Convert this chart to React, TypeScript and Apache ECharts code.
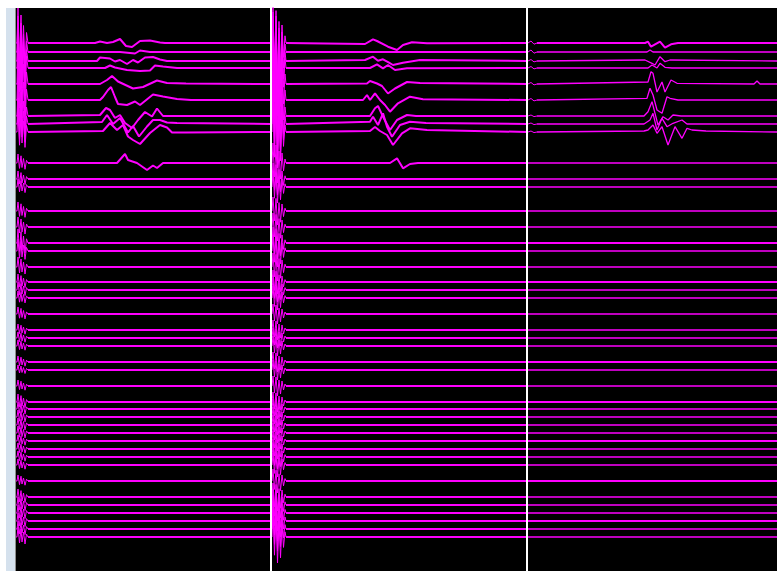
import { useEffect, useRef } from "react";
import * as echarts from "echarts";

// Channel baselines (vertical offset of each trace, arbitrary units, top = 0)
const CHANNEL_OFFSETS = [35, 44, 53, 60, 76, 92, 108, 116, 124, 155, 171, 179, 203, 219, 235, 243, 259, 274, 282, 290, 306, 322, 330, 338, 354, 362, 378, 394, 401, 409, 417, 425, 433, 441, 449, 457, 473, 489, 497, 505, 513, 521, 529];

// Sweep boundaries (sample index)
const SWEEP_STARTS = [0, 255, 511];
const SWEEP_END = 761;

// Stimulus artifact shapes: [sample offset, relative deflection]
const ARTIFACT_SHAPE_S1 = [[0, 0], [1, -1], [2.5, 0.6], [4, -0.8], [5, 0.5], [6.5, -0.5], [8, 0.7], [9.5, -0.3], [11, 0]];
const ARTIFACT_SHAPE_S2 = [[0, 0], [1, -1], [2.5, 0.7], [4, -0.9], [5.5, 1], [7, -0.6], [8.5, 0.8], [10, -0.5], [11.5, 0.4], [13, -0.2], [14, 0]];
const ARTIFACT_SHAPE_S3 = [[0, 0], [3, -1], [6, 0.6], [9, 0]];

// Artifact amplitude per channel, per sweep
const ARTIFACT_S1 = [35, 36, 38, 40, 40, 36, 30, 26, 22, 9, 8, 8, 9, 10, 14, 12, 10, 8, 8, 7, 7, 6, 6, 6, 6, 5, 6, 8, 7, 7, 7, 7, 6, 6, 6, 6, 6, 8, 8, 8, 8, 8, 10];
const ARTIFACT_S2 = [36, 40, 45, 48, 50, 50, 45, 40, 36, 20, 16, 16, 14, 14, 16, 16, 14, 12, 12, 12, 10, 10, 10, 10, 10, 10, 10, 10, 10, 10, 10, 10, 10, 10, 12, 12, 12, 14, 16, 18, 20, 22, 26];
const ARTIFACT_S3 = [2, 2, 1.5, 1.5, 1.5, 1.5, 1, 1, 1, 0, 0, 0, 0, 0, 0, 0, 0, 0, 0, 0, 0, 0, 0, 0, 0, 0, 0, 0, 0, 0, 0, 0, 0, 0, 0, 0, 0, 0, 0, 0, 0, 0, 0];

// Evoked responses: [sample, deflection from baseline] (positive = downward)
const CH0_S1 = [[79, 0], [84, -1.5], [91, 0], [97, -1], [104, -4], [110, 3], [116, 4], [124, -2], [134, -2.5], [144, -0.5], [149, 0]];
const CH0_S2 = [[349, 1], [357, -3.7], [361, -2], [372, 3.7], [381, 7], [387, 2], [396, -0.7], [411, 0.3]];
const CH0_S3 = [[629, 0], [632, -1.3], [635, 3.7], [644, -1.3], [649, 4.7], [655, 1.3], [662, 0]];
const CH1_S1 = [[104, 0], [119, 1.5], [124, -1.5], [134, 0]];
const CH1_S3 = [[631, 0], [634, -2], [637, 0]];
const CH2_S1 = [[81, 0], [84, -3.5], [94, -2.5], [99, 0.5], [104, -1], [111, 3], [117, -1], [122, 1.5], [129, -3.5], [137, -4], [144, -1.5], [151, 0]];
const CH2_S2 = [[349, -1], [357, -4.3], [362, -0.3], [367, -1.7], [373, 1.7], [377, 4], [387, 1.7], [404, -1]];
const CH2_S3 = [[629, -1], [636, 2.3], [639, 4], [644, -4.3], [649, 0.7], [654, -1]];
const CH3_S1 = [[89, 0], [94, -2.5], [99, -0.5], [111, 2], [124, 3], [134, 2.5], [139, -2.5], [147, -1.5], [161, 0]];
const CH3_S2 = [[354, 0], [361, -3.7], [367, 0.3], [372, -3], [379, 2], [391, 0.3]];
const CH3_S3 = [[632, 0], [636, -3], [641, 0], [644, -4.7], [649, -0.7], [656, 0]];
const CH4_S1 = [[84, 0], [91, -4], [96, -8], [102, -2.5], [117, 4.5], [127, 3], [141, -3.5], [151, -1], [170, -0.5]];
const CH4_S2 = [[351, -0.5], [354, -3], [361, -0.5], [366, 2], [372, 9.5], [379, 4.5], [391, -2], [404, -1]];
const CH4_S3 = [[632, -2], [635, -12.3], [637, -10.7], [641, 8], [646, -2], [649, 8], [655, -4], [661, -0.7], [738, 0], [741, -3], [744, 0]];
const CH5_S1 = [[84, 0], [87, -3], [92, -10], [95, -13], [99, -3], [102, 4], [111, 5], [119, 1.5], [124, 5], [137, -5.5], [147, -3.5], [161, -1], [175, 0]];
const CH5_S2 = [[347, 0], [351, -5], [354, 0], [359, -6.7], [364, 0], [369, 5], [374, 11.7], [382, 3.3], [394, -3.3], [407, -0.7]];
const CH5_S3 = [[631, -1.7], [634, -11.7], [637, -5], [641, 10], [646, 13.3], [651, -3.3], [654, -1.7], [662, 0]];
const CH6_S1 = [[84, -1], [90, -8], [94, -6], [99, 2], [104, -1], [109, 7], [116, 12], [122, 4], [129, -4], [136, 0.5], [141, -7.5], [147, 0]];
const CH6_S2 = [[354, 0], [359, -7.7], [362, -10], [367, 0.7], [374, 14], [381, 4], [391, -1], [400, 0]];
const CH6_S3 = [[628, 0], [632, -4.3], [636, -14.3], [639, -2.7], [642, 9], [647, 0.7], [652, 4], [657, -1], [665, 0]];
const CH7_S1 = [[86, -2], [91, -9], [97, 0], [104, -6], [112, 8.5], [117, 2], [123, 12.5], [131, 2.5], [137, -4], [144, -4], [151, -1.5], [161, -1]];
const CH7_S2 = [[354, -2.3], [357, -7.3], [362, 1], [367, -10.7], [371, 2.7], [376, 12.7], [384, 1], [394, -2.3], [410, -1]];
const CH7_S3 = [[628, 0], [634, -4], [637, -10.7], [641, 6], [646, -5.7], [651, 2.7], [657, -0.7], [666, -4], [671, 0]];
const CH8_S1 = [[87, -1], [94, -9], [101, -2], [107, -7], [112, 4.5], [117, 8], [124, 12], [134, 1], [144, -7], [151, -4.5], [156, 0.5], [170, 0.5]];
const CH8_S2 = [[354, -1], [359, -5], [364, -1], [371, 3], [377, 13], [386, 1.3], [394, -3.7], [411, -2]];
const CH8_S3 = [[628, -1], [632, -2], [637, -7], [641, 1.3], [646, -5.3], [652, 13], [659, -5.3], [666, 6.3], [671, -3.7], [676, -2], [690, -1]];
const CH9_S1 = [[101, 0], [109, -9], [112, -3], [121, 0], [131, 7], [137, 2.5], [141, 5], [147, 0]];
const CH9_S2 = [[374, 0], [381, -4.7], [387, 5.3], [394, 1], [402, 0]];

const EVENTS: Record<number, number[][][]> = {
  0: [CH0_S1, CH0_S2, CH0_S3],
  1: [CH1_S1, [], CH1_S3],
  2: [CH2_S1, CH2_S2, CH2_S3],
  3: [CH3_S1, CH3_S2, CH3_S3],
  4: [CH4_S1, CH4_S2, CH4_S3],
  5: [CH5_S1, CH5_S2, CH5_S3],
  6: [CH6_S1, CH6_S2, CH6_S3],
  7: [CH7_S1, CH7_S2, CH7_S3],
  8: [CH8_S1, CH8_S2, CH8_S3],
  9: [CH9_S1, CH9_S2, []],
};

// Channels that stay noisy (thicker) in the third sweep
const NOISY_S3 = [0, 14, 17, 24, 27, 32, 36, 40];

const TRACE_COLOR = "#ff00ff";

export default function App() {
  const ref = useRef<HTMLDivElement>(null);
  useEffect(() => {
    const chart = echarts.init(ref.current!, null, { renderer: "svg" });
    const shapes = [ARTIFACT_SHAPE_S1, ARTIFACT_SHAPE_S2, ARTIFACT_SHAPE_S3];
    const amps = [ARTIFACT_S1, ARTIFACT_S2, ARTIFACT_S3];
    const series: any[] = [];
    const lineSeries = (data: number[][], width: number, z: number, color = TRACE_COLOR) => ({
      type: "line",
      data,
      showSymbol: false,
      symbol: "none",
      silent: true,
      z,
      lineStyle: { color, width },
    });
    CHANNEL_OFFSETS.forEach((offset, c) => {
      SWEEP_STARTS.forEach((start, s) => {
        const end = s < SWEEP_STARTS.length - 1 ? SWEEP_STARTS[s + 1] : SWEEP_END;
        const shape = shapes[s];
        const artEnd = start + 1 + shape[shape.length - 1][0];
        const amp = amps[s][c];
        // stimulus artifact (thin)
        if (amp > 0) {
          const art = shape.map(([dt, v]) => [start + 1 + dt, offset + v * amp]);
          series.push(lineSeries([[start, offset], ...art], 1, 2));
        }
        // trace after artifact
        const pts: number[][] = [[amp > 0 ? artEnd : start, 0]];
        const ev = (EVENTS[c] && EVENTS[c][s]) || [];
        ev.forEach((p) => pts.push([p[0], p[1]]));
        pts.push([end, 0]);
        pts.sort((a, b) => a[0] - b[0]);
        const width = s < 2 ? 2 : NOISY_S3.includes(c) ? 2 : 1.3;
        series.push(lineSeries(pts.map(([t, d]) => [t, offset + d]), width, 3));
      });
    });
    // sweep separators
    SWEEP_STARTS.slice(1).forEach((t) => {
      series.push(lineSeries([[t, 0], [t, 563]], 2, 5, "#ffffff"));
    });

    chart.setOption({
      animation: false,
      backgroundColor: "#ffffff",
      grid: { left: 16, right: 0, top: 8, bottom: 0, show: true, backgroundColor: "#000000", borderWidth: 0 },
      xAxis: { type: "value", min: 0, max: SWEEP_END, show: false },
      yAxis: { type: "value", min: 0, max: 563, inverse: true, show: false },
      graphic: [
        { type: "rect", shape: { x: 6, y: 8, width: 9, height: 563 }, style: { fill: "#d5e1ed" }, silent: true },
        { type: "rect", shape: { x: 15, y: 8, width: 1, height: 563 }, style: { fill: "#8c8c8c" }, silent: true },
      ],
      series,
    });
    return () => chart.dispose();
  }, []);
  return <div ref={ref} style={{ position: "fixed", left: 0, top: 0, width: 777, height: 571 }} />;
}
